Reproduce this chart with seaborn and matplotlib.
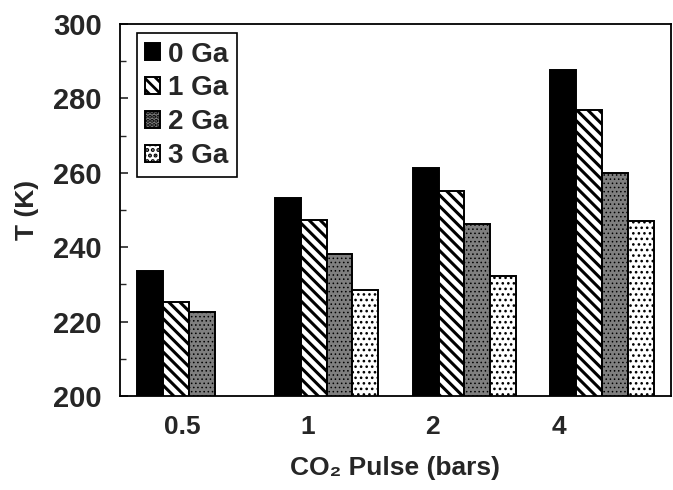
import numpy as np
import pandas as pd
import matplotlib
matplotlib.use("Agg")
import matplotlib.pyplot as plt
from matplotlib.ticker import MultipleLocator
import seaborn as sns

# CO2 pulse pressure (bars) and onset temperature for each Ga loading
pulses = ["0.5", "1", "2", "4"]
series_names = ["0 Ga", "1 Ga", "2 Ga", "3 Ga"]
t_0ga = [233.5, 253.3, 261.2, 287.7]
t_1ga = [225.2, 247.3, 255.2, 277.0]
t_2ga = [222.6, 238.3, 246.2, 260.0]
t_3ga = [np.nan, 228.4, 232.3, 247.0]
y_ticks = [200, 220, 240, 260, 280, 300]

rows = []
for name, vals in zip(series_names, [t_0ga, t_1ga, t_2ga, t_3ga]):
    for p, v in zip(pulses, vals):
        rows.append({"pulse": p, "series": name, "T": v})
df = pd.DataFrame(rows)

sns.set_style("white")
plt.rcParams["font.family"] = ["Liberation Sans", "DejaVu Sans"]
plt.rcParams["font.weight"] = "bold"
plt.rcParams["hatch.linewidth"] = 2.0

fig = plt.figure(figsize=(6.73, 4.90), dpi=100)
ax = fig.add_axes([120 / 673, 1 - 396 / 490, 551 / 673, 372 / 490])

sns.barplot(data=df, x="pulse", y="T", hue="series", order=pulses,
            hue_order=series_names, width=0.75, dodge=True, ax=ax,
            legend=False, saturation=1)

styles = [
    dict(facecolor="black", hatch=None),
    dict(facecolor="white", hatch="\\\\\\"),
    dict(facecolor="#7f7f7f", hatch="...."),
    dict(facecolor="white", hatch="..."),
]
hatch_lw = [1.0, 2.2, 0.6, 1.1]
for cont, st, hlw in zip(ax.containers, styles, hatch_lw):
    for bar in cont.patches:
        bar.set_facecolor(st["facecolor"])
        bar.set_edgecolor("black")
        bar.set_linewidth(1.4)
        if st["hatch"]:
            bar.set_hatch(st["hatch"])
        try:
            bar.set_hatch_linewidth(hlw)
        except AttributeError:
            pass

ax.set_ylim(200, 300)
ax.set_xlim(-0.5, 3.5)
ax.set_yticks(y_ticks)
ax.yaxis.set_minor_locator(MultipleLocator(10))
ax.tick_params(axis="y", which="major", direction="in", length=6, width=1.2,
               left=True, pad=13, labelsize=21)
ax.tick_params(axis="y", which="minor", direction="in", length=4, width=1.0,
               left=True)
for lab in ax.get_yticklabels():
    lab.set_fontweight("bold")

# category labels sit slightly left of their bar groups
label_pos = [-0.05, 0.865, 1.77, 2.69]
ax.set_xticks(label_pos)
ax.set_xticklabels(pulses, fontsize=19, fontweight="bold")
ax.tick_params(axis="x", length=0, pad=14)

ax.set_xlabel("CO\u2082 Pulse (bars)", fontsize=19, fontweight="bold", labelpad=12)
ax.set_ylabel("T (K)", fontsize=19, fontweight="bold", labelpad=10)

for sp in ax.spines.values():
    sp.set_visible(True)
    sp.set_color("black")
    sp.set_linewidth(1.3)

handles = [cont.patches[-1] for cont in ax.containers]
leg = ax.legend(handles, series_names, loc="upper left",
                bbox_to_anchor=(0.03, 0.975), frameon=True, fancybox=False,
                edgecolor="black", framealpha=1, borderpad=0.3,
                handlelength=0.55, handleheight=0.55, handletextpad=0.3,
                labelspacing=0.28, borderaxespad=0,
                prop={"size": 20, "weight": "bold"})
leg.get_frame().set_linewidth(1.2)

fig.savefig("out.png", dpi=100)
